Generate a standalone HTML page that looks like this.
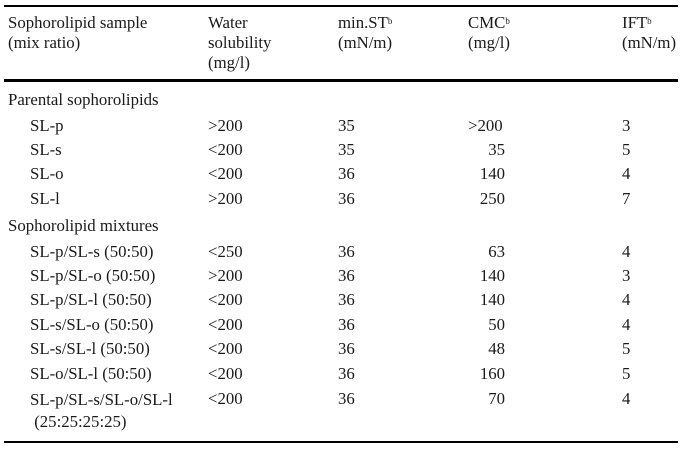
<!DOCTYPE html>
<html><head><style>
body{margin:0;width:688px;height:455px;background:#fff;position:relative;overflow:hidden;font-family:"Liberation Serif",serif;font-size:16.8px;color:#1a1a1a}
.t{position:absolute;white-space:nowrap;line-height:19px}
.l{position:absolute;left:4px;width:674px;background:#000}
sup{font-size:9px;position:relative;top:-2px;vertical-align:top}
.r{text-align:right;width:40px}
</style></head><body>
<div class="l" style="top:5px;height:2px"></div>
<div class="l" style="top:79px;height:3px"></div>
<div class="l" style="top:441px;height:2px"></div>

<div class="t" style="left:8px;top:13px;line-height:20px">Sophorolipid sample<br>(mix ratio)</div>
<div class="t" style="left:208px;top:13px;line-height:20px">Water<br>solubility<br>(mg/l)</div>
<div class="t" style="left:338px;top:13px;line-height:20px">min.ST<sup>b</sup><br>(mN/m)</div>
<div class="t" style="left:468px;top:13px;line-height:20px">CMC<sup>b</sup><br>(mg/l)</div>
<div class="t" style="left:622px;top:13px;line-height:20px">IFT<sup>b</sup><br>(mN/m)</div>

<div class="t" style="left:8px;top:90px">Parental sophorolipids</div>
<div class="t" style="left:8px;top:216px">Sophorolipid mixtures</div>

<div class="t" style="left:30px;top:116px">SL-p</div><div class="t" style="left:208px;top:116px">&gt;200</div><div class="t" style="left:338px;top:116px">35</div><div class="t" style="left:468px;top:116px">&gt;200</div><div class="t" style="left:622px;top:116px">3</div>
<div class="t" style="left:30px;top:140px">SL-s</div><div class="t" style="left:208px;top:140px">&lt;200</div><div class="t" style="left:338px;top:140px">35</div><div class="t r" style="left:465px;top:140px">35</div><div class="t" style="left:622px;top:140px">5</div>
<div class="t" style="left:30px;top:164px">SL-o</div><div class="t" style="left:208px;top:164px">&lt;200</div><div class="t" style="left:338px;top:164px">36</div><div class="t r" style="left:465px;top:164px">140</div><div class="t" style="left:622px;top:164px">4</div>
<div class="t" style="left:30px;top:189px">SL-l</div><div class="t" style="left:208px;top:189px">&gt;200</div><div class="t" style="left:338px;top:189px">36</div><div class="t r" style="left:465px;top:189px">250</div><div class="t" style="left:622px;top:189px">7</div>

<div class="t" style="left:30px;top:242px">SL-p/SL-s (50:50)</div><div class="t" style="left:208px;top:242px">&lt;250</div><div class="t" style="left:338px;top:242px">36</div><div class="t r" style="left:465px;top:242px">63</div><div class="t" style="left:622px;top:242px">4</div>
<div class="t" style="left:30px;top:266px">SL-p/SL-o (50:50)</div><div class="t" style="left:208px;top:266px">&gt;200</div><div class="t" style="left:338px;top:266px">36</div><div class="t r" style="left:465px;top:266px">140</div><div class="t" style="left:622px;top:266px">3</div>
<div class="t" style="left:30px;top:290px">SL-p/SL-l (50:50)</div><div class="t" style="left:208px;top:290px">&lt;200</div><div class="t" style="left:338px;top:290px">36</div><div class="t r" style="left:465px;top:290px">140</div><div class="t" style="left:622px;top:290px">4</div>
<div class="t" style="left:30px;top:315px">SL-s/SL-o (50:50)</div><div class="t" style="left:208px;top:315px">&lt;200</div><div class="t" style="left:338px;top:315px">36</div><div class="t r" style="left:465px;top:315px">50</div><div class="t" style="left:622px;top:315px">4</div>
<div class="t" style="left:30px;top:339px">SL-s/SL-l (50:50)</div><div class="t" style="left:208px;top:339px">&lt;200</div><div class="t" style="left:338px;top:339px">36</div><div class="t r" style="left:465px;top:339px">48</div><div class="t" style="left:622px;top:339px">5</div>
<div class="t" style="left:30px;top:364px">SL-o/SL-l (50:50)</div><div class="t" style="left:208px;top:364px">&lt;200</div><div class="t" style="left:338px;top:364px">36</div><div class="t r" style="left:465px;top:364px">160</div><div class="t" style="left:622px;top:364px">5</div>
<div class="t" style="left:30px;top:389px;line-height:22px">SL-p/SL-s/SL-o/SL-l<br>&nbsp;(25:25:25:25)</div><div class="t" style="left:208px;top:389px">&lt;200</div><div class="t" style="left:338px;top:389px">36</div><div class="t r" style="left:465px;top:389px">70</div><div class="t" style="left:622px;top:389px">4</div>
</body></html>
